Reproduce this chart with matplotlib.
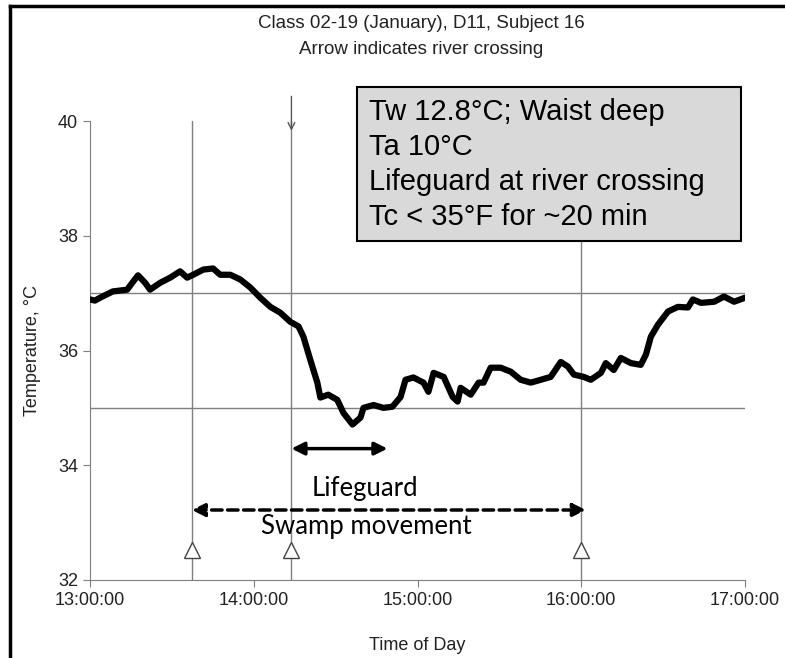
import matplotlib
matplotlib.use("Agg")
import matplotlib.pyplot as plt
from matplotlib.lines import Line2D
from matplotlib.patches import Rectangle

plt.rcParams['font.family'] = ['Liberation Sans', 'DejaVu Sans']

# minutes after 13:00 and core temperature (deg C)
minutes = [0, 1.8, 3.7, 8.4, 13.6, 15.8, 17.6, 20.2, 22.0, 25.7, 29.4, 33.0, 35.6,
           37.8, 41.5, 45.1, 47.7, 51.4, 55.0, 58.7, 62.4, 66.1, 69.7, 73.4, 76.4,
           78.2, 80.7, 83.3, 84.4, 87.3, 90.6, 92.9, 96.2, 99.1, 100.2, 103.9,
           107.5, 110.8, 113.8, 115.6, 118.5, 122.2, 124.0, 125.9, 129.6, 132.9,
           134.7, 135.8, 139.5, 142.4, 144.2, 146.8, 150.5, 154.2, 157.8, 161.5,
           165.2, 168.8, 172.5, 175.1, 177.3, 180.9, 183.5, 187.2, 189.0, 191.9,
           194.5, 198.2, 201.8, 203.7, 205.5, 208.1, 211.8, 215.4, 219.1, 220.9,
           223.9, 228.7, 232.3, 236.0, 240.0]
temps = [36.89, 36.87, 36.92, 37.03, 37.06, 37.20, 37.31, 37.18, 37.06, 37.18,
         37.27, 37.38, 37.27, 37.32, 37.41, 37.43, 37.32, 37.32, 37.24, 37.10,
         36.92, 36.76, 36.66, 36.50, 36.42, 36.24, 35.84, 35.44, 35.18, 35.23,
         35.14, 34.91, 34.71, 34.83, 35.00, 35.05, 35.00, 35.02, 35.19, 35.49,
         35.53, 35.44, 35.28, 35.61, 35.54, 35.19, 35.11, 35.35, 35.23, 35.44,
         35.44, 35.70, 35.70, 35.63, 35.49, 35.44, 35.49, 35.54, 35.80, 35.72,
         35.58, 35.54, 35.49, 35.61, 35.78, 35.66, 35.87, 35.78, 35.75, 35.93,
         36.24, 36.45, 36.68, 36.76, 36.75, 36.89, 36.83, 36.85, 36.94, 36.85,
         36.92]

event_times = [37.3, 73.8, 180.0]
ref_temps = [37, 35]
xtick_pos = [0, 60, 120, 180, 240]
xtick_labels = ['13:00:00', '14:00:00', '15:00:00', '16:00:00', '17:00:00']
yticks = [32, 34, 36, 38, 40]
lifeguard_span = (73.8, 109.0)
swamp_span = (37.3, 181.7)
box_lines = ['Tw 12.8°C; Waist deep', 'Ta 10°C',
             'Lifeguard at river crossing', 'Tc < 35°F for ~20 min']

W, H = 785, 658
fig = plt.figure(figsize=(W / 100, H / 100), dpi=100)
ax = fig.add_axes([90 / W, 1 - 580 / H, (745 - 90) / W, (580 - 121) / H])

grey = '#7f7f7f'
for t in ref_temps:
    ax.axhline(t, color=grey, lw=1, zorder=1)
for t in event_times:
    ax.axvline(t, color=grey, lw=1, zorder=1)

ax.plot(minutes, temps, color='black', lw=4.5, solid_capstyle='round',
        solid_joinstyle='round', zorder=3)

ax.plot(event_times, [32.52] * 3, ls='none', marker='^', ms=11,
        mfc='white', mec='#444444', mew=1, zorder=4, clip_on=False)

# river crossing arrow
ax.annotate('', xy=(event_times[1], 39.83), xytext=(event_times[1], 40.43),
            arrowprops=dict(arrowstyle='->', color='#555555', lw=1,
                            mutation_scale=12, shrinkA=0, shrinkB=0),
            annotation_clip=False)

ax.annotate('', xy=(lifeguard_span[1], 34.29), xytext=(lifeguard_span[0], 34.29),
            arrowprops=dict(arrowstyle='<|-|>', color='black', lw=2.5,
                            mutation_scale=19, shrinkA=0, shrinkB=0))
ax.annotate('', xy=(swamp_span[1], 33.22), xytext=(swamp_span[0], 33.22),
            arrowprops=dict(arrowstyle='<|-|>', color='black', lw=2.5,
                            linestyle=(0, (3, 1.6)), mutation_scale=19,
                            shrinkA=0, shrinkB=0))
ax.text(100.6, 33.6, 'Lifeguard', family=['Lato', 'DejaVu Sans'], fontsize=18.5,
        ha='center', va='center')
ax.text(101.3, 32.93, 'Swamp movement', family=['Lato', 'DejaVu Sans'],
        fontsize=18.5, ha='center', va='center')

ax.set_xlim(0, 240)
ax.set_ylim(32, 40)
ax.set_xticks(xtick_pos)
ax.set_xticklabels(xtick_labels)
ax.set_yticks(yticks)
for s in ['top', 'right']:
    ax.spines[s].set_visible(False)
for s in ['left', 'bottom']:
    ax.spines[s].set_color(grey)
ax.tick_params(direction='out', length=5, color=grey, labelsize=13,
               labelcolor='#222222')
ax.set_xlabel('Time of Day', fontsize=13, color='#222222', labelpad=20)
ax.set_ylabel('Temperature, °C', fontsize=13, color='#222222', labelpad=12)

# info box
fig.add_artist(Rectangle((357 / W, 1 - 241 / H), (741 - 357) / W, (241 - 87) / H,
                         transform=fig.transFigure, facecolor='#d9d9d9',
                         edgecolor='black', lw=1.5, zorder=5))
for i, line in enumerate(box_lines):
    fig.text(369 / W, 1 - (112 + 35 * i) / H, line, fontsize=21, va='center',
             ha='left', zorder=6)

fig.text(421 / W, 1 - 23 / H, 'Class 02-19 (January), D11, Subject 16',
         fontsize=13.5, ha='center', va='center', color='#222222')
fig.text(421 / W, 1 - 50 / H, 'Arrow indicates river crossing',
         fontsize=13.5, ha='center', va='center', color='#222222')

# outer frame (left and top edges)
fig.add_artist(Line2D([9.5 / W, 9.5 / W], [0, 1 - 6 / H], transform=fig.transFigure,
                      color='black', lw=2.5))
fig.add_artist(Line2D([9.5 / W, 1], [1 - 6 / H, 1 - 6 / H], transform=fig.transFigure,
                      color='black', lw=2.5))

fig.savefig('out.png', dpi=100)
